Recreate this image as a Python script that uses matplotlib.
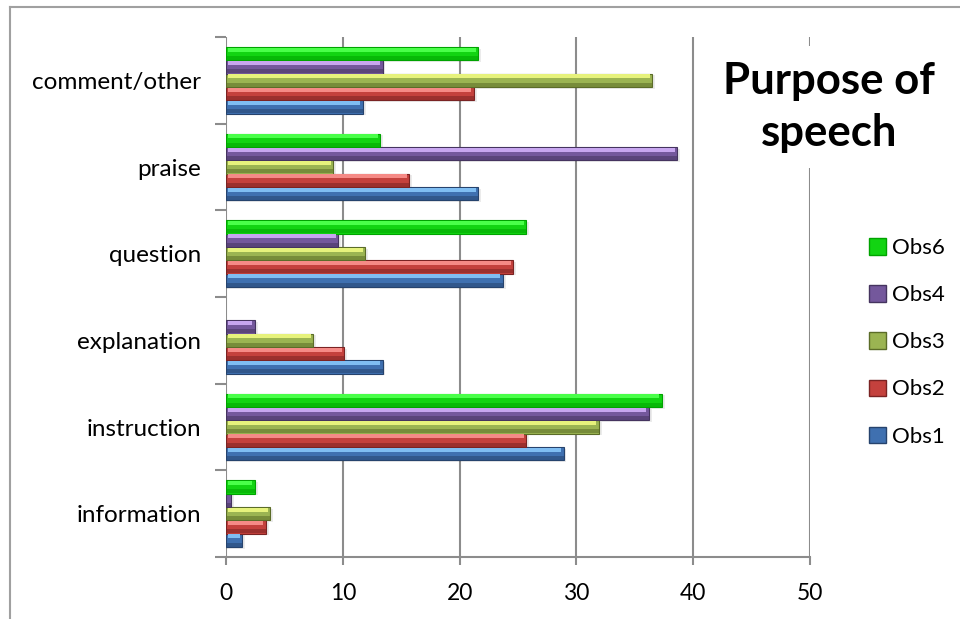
import numpy as np
import matplotlib.pyplot as plt
from matplotlib.patches import Patch, Rectangle

plt.rcParams['font.family'] = ['Lato', 'DejaVu Sans']

# categories, bottom to top
categories = ['information', 'instruction', 'explanation', 'question', 'praise', 'comment/other']

# series, bottom bar to top bar inside each group
series = ['Obs1', 'Obs2', 'Obs3', 'Obs4', 'Obs6']
obs1 = [1.4, 28.9, 13.4, 23.7, 21.6, 11.7]
obs2 = [3.4, 25.7, 10.1, 24.6, 15.7, 21.2]
obs3 = [3.8, 31.9, 7.45, 11.9, 9.2, 36.5]
obs4 = [0.4, 36.2, 2.45, 9.6, 38.6, 13.4]
obs6 = [2.45, 37.3, 0.0, 25.7, 13.2, 21.6]
values = [obs1, obs2, obs3, obs4, obs6]

# (mid, light, dark) for the bevelled bars
palette = [
    ('#3f70b0', '#7fbdf2', '#26436d'),
    ('#c4413d', '#f58a86', '#7a2323'),
    ('#9bb452', '#e6f27c', '#5b6c28'),
    ('#74589c', '#c7a6ef', '#45345f'),
    ('#12d412', '#49ff49', '#00a300'),
]

xticks = [0, 10, 20, 30, 40, 50]

fig = plt.figure(figsize=(9.6, 6.19), dpi=100)
W, H = 960, 619
ax = fig.add_axes([226 / W, 1 - 557 / H, (810 - 226) / W, (557 - 37) / H])

y = np.arange(len(categories))
h = 0.154
for i, (name, vals) in enumerate(zip(series, values)):
    mid, light, dark = palette[i]
    vals = np.asarray(vals)
    keep = vals > 0  # zero-length bars are not drawn at all
    yc = (y + (i - 2) * h)[keep]
    v = vals[keep]
    # soft drop shadow
    ax.barh(yc - 0.02, v + 0.25, height=h, left=0, color='#000000',
            alpha=0.08, linewidth=0, zorder=2)
    ax.barh(yc, v, height=h, color=mid, edgecolor=dark, linewidth=0.8,
            zorder=3, label=name)
    # light top edge and dark lower edge of the bevel
    ax.barh(yc + h * 0.3, np.maximum(v - 0.35, 0), height=h * 0.28, left=0.15,
            color=light, linewidth=0, zorder=4)
    ax.barh(yc - h * 0.33, v, height=h * 0.3, color=dark, alpha=0.55,
            linewidth=0, zorder=4)

ax.set_xlim(0, 50)
ax.set_ylim(-0.5, len(categories) - 0.5)
ax.set_xticks(xticks)
ax.set_xticklabels([str(t) for t in xticks], fontsize=16.5)
ax.set_yticks(y)
ax.set_yticklabels(categories, fontsize=17.5)
ax.set_yticks(np.arange(-0.5, len(categories)), minor=True)
ax.tick_params(axis='y', which='major', length=0, pad=18)
ax.tick_params(axis='y', which='minor', length=8, width=1.5, color='#8c8c8c')
ax.tick_params(axis='x', length=6, width=1.5, color='#8c8c8c', pad=13)

ax.grid(axis='x', color='#8c8c8c', linewidth=1.5, zorder=0)
ax.set_axisbelow(True)
for side in ['top', 'right', 'left']:
    ax.spines[side].set_visible(False)
ax.spines['bottom'].set_color('#8c8c8c')
ax.spines['bottom'].set_linewidth(1.5)

# chart frame (left and top edges)
fig.add_artist(plt.Line2D([10 / W, 10 / W], [0, 1 - 7 / H], color='#a0a0a0',
                          linewidth=1.5, transform=fig.transFigure))
fig.add_artist(plt.Line2D([10 / W, 1], [1 - 7 / H, 1 - 7 / H], color='#a0a0a0',
                          linewidth=1.5, transform=fig.transFigure))

# title box sits over the gridlines
fig.add_artist(Rectangle((705 / W, 1 - 168 / H), 250 / W, 122 / H,
                         transform=fig.transFigure, facecolor='white',
                         edgecolor='none', zorder=5))
fig.text(829 / W, 1 - 107 / H, 'Purpose of\nspeech', ha='center', va='center',
         fontsize=31.5, fontweight='bold', linespacing=1.36, zorder=6)

handles = [Patch(facecolor=palette[i][0], edgecolor=palette[i][2]) for i in range(4, -1, -1)]
labels = [series[i] for i in range(4, -1, -1)]
fig.legend(handles, labels, loc='upper left', bbox_to_anchor=(858 / W, 1 - 227 / H),
           frameon=False, fontsize=16, labelspacing=1.22, handlelength=0.75,
           handleheight=0.75, handletextpad=0.3, borderpad=0)

fig.savefig('out.png', dpi=100)
